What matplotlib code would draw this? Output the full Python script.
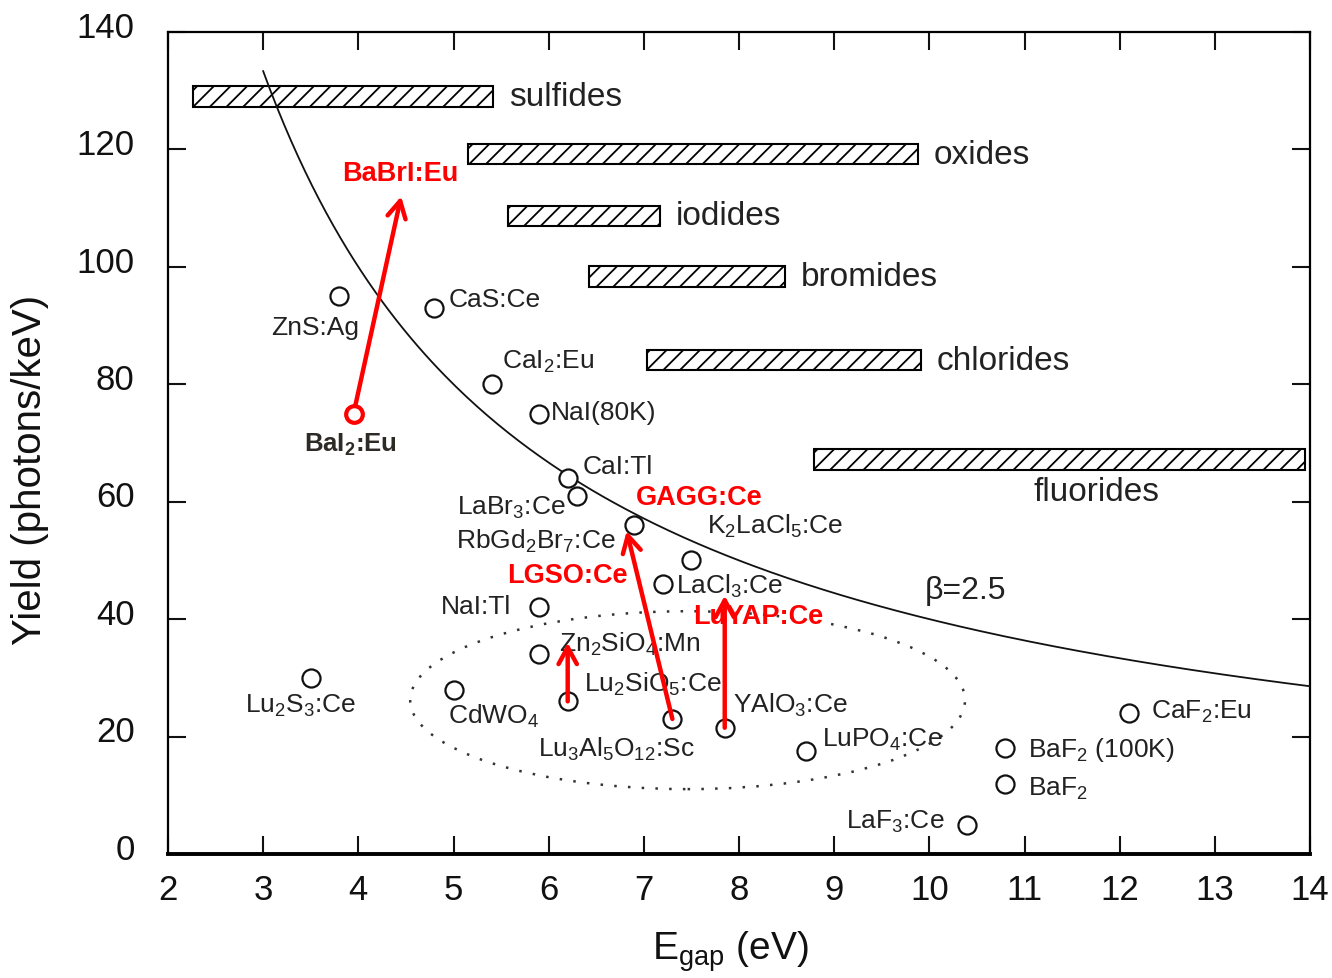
import matplotlib
matplotlib.use('Agg')
import matplotlib.pyplot as plt
import matplotlib.transforms as mtransforms
from matplotlib.patches import Ellipse
import numpy as np

plt.rcParams['font.family'] = ['Liberation Sans', 'DejaVu Sans']
plt.rcParams['mathtext.fontset'] = 'custom'
plt.rcParams['mathtext.rm'] = 'Liberation Sans'
plt.rcParams['mathtext.bf'] = 'Liberation Sans:bold'
plt.rcParams['mathtext.default'] = 'rm'
plt.rcParams['hatch.linewidth'] = 1.3

# scintillators: band gap (eV) and light yield (photons/keV)
materials = ['ZnS:Ag', 'CaS:Ce', 'CaI$_2$:Eu', 'NaI(80K)', 'CaI:Tl', 'LaBr$_3$:Ce',
             'RbGd$_2$Br$_7$:Ce', 'K$_2$LaCl$_5$:Ce', 'LaCl$_3$:Ce', 'NaI:Tl',
             'Zn$_2$SiO$_4$:Mn', 'Lu$_2$SiO$_5$:Ce', 'CdWO$_4$', 'Lu$_2$S$_3$:Ce',
             'Lu$_3$Al$_5$O$_{12}$:Sc', 'YAlO$_3$:Ce', 'LuPO$_4$:Ce', 'CaF$_2$:Eu',
             'BaF$_2$ (100K)', 'BaF$_2$', 'LaF$_3$:Ce']
egap = [3.8, 4.8, 5.4, 5.9, 6.2, 6.3, 6.9, 7.5, 7.2, 5.9, 5.9, 6.2, 5.0, 3.5,
        7.3, 7.85, 8.7, 12.1, 10.8, 10.8, 10.4]
light_yield = [95, 93, 80, 75, 64, 61, 56, 50, 46, 42, 34, 26, 28, 30,
               23, 21.5, 17.5, 24, 18, 12, 5]

# new materials (red) and where they move to
bai2_egap, bai2_yield = 3.95, 75
new_names = ['BaBrI:Eu', 'GAGG:Ce', 'LGSO:Ce', 'LuYAP:Ce']
new_from = [(3.95, 75), (7.3, 23), (6.2, 26), (7.85, 21.5)]
new_to = [(4.45, 112), (6.82, 55), (6.2, 36), (7.85, 44)]

# compound families: ranges of band gap and typical yield
families = ['sulfides', 'oxides', 'iodides', 'bromides', 'chlorides', 'fluorides']
fam_lo = [2.26, 5.15, 5.57, 6.42, 7.03, 8.79]
fam_hi = [5.42, 9.88, 7.17, 8.48, 9.91, 13.95]
fam_yield = [129, 119.2, 108.7, 98.4, 84.1, 67.2]

beta = 2.5

# label offsets in pixels (dx, dy, ha)
lab_off = [(-24, -31, 'center'), (14, 9, 'left'), (10, 23, 'left'), (12, 2, 'left'),
           (15, 12, 'left'), (-11, -11, 'right'), (-19, -15, 'right'), (16, 35, 'left'),
           (13, -1, 'left'), (-28, 1, 'right'), (20, 11, 'left'), (16, 18, 'left'),
           (-6, -26, 'left'), (-10, -27, 'center'), (22, -29, 'right'), (8, 23, 'left'),
           (16, 12, 'left'), (22, 2, 'left'), (23, -1, 'left'), (23, -4, 'left'),
           (-23, 4, 'right')]
new_lab = [(4.44, 116, 'center'), (6.92, 60.8, 'left'), (5.56, 47.5, 'left'),
           (7.52, 40.5, 'left')]

fig = plt.figure(figsize=(13.32, 9.79), dpi=100)
ax = fig.add_axes([168/1332, 1-855/979, 1142/1332, 822/979])

# hatched family bars
ax.barh(fam_yield, np.array(fam_hi) - np.array(fam_lo), left=fam_lo, height=3.5,
        facecolor='white', edgecolor='black', hatch='//', linewidth=1.5, zorder=2)
for name, hi, y in zip(families[:-1], fam_hi[:-1], fam_yield[:-1]):
    ax.annotate(name, (hi, y), xytext=(11.5, 0), textcoords='offset points',
                ha='left', va='center', fontsize=24, color='#222222')
ax.text(11.09, 61.8, families[-1], ha='left', va='center', fontsize=24, color='#222222')

# theoretical limit
eg = np.linspace(3.0, 14, 300)
ax.plot(eg, 1000 / (beta * eg), color='#111111', lw=1.3, zorder=3)
ax.text(9.95, 45, 'β=2.5', ha='left', va='center', fontsize=23, color='#222222')

# dotted ellipse around oxides
ax.add_patch(Ellipse((7.46, 26.2), 5.83, 30.3, fill=False, ls=(0, (1, 4.5)),
                     lw=1.8, color='#333333'))

ax.plot(egap, light_yield, 'o', ms=13, mfc='white', mec='#111111', mew=1.6,
        ls='none', zorder=4)
for name, x, y, (dx, dy, ha) in zip(materials, egap, light_yield, lab_off):
    ax.annotate(name, (x, y), xytext=(dx * 0.72, dy * 0.72),
                textcoords='offset points', ha=ha, va='center',
                fontsize=19, color='#222222')

# red arrows
for (x0, y0), (x1, y1) in zip(new_from, new_to):
    ax.annotate('', xy=(x1, y1), xytext=(x0, y0),
                arrowprops=dict(arrowstyle='->,head_length=0.55,head_width=0.3',
                                color='red', lw=3.2, shrinkA=0, shrinkB=0,
                                mutation_scale=22), zorder=5)
for name, (x, y, ha) in zip(new_names, new_lab):
    ax.text(x, y, name, ha=ha, va='center', fontsize=19.5, fontweight='bold',
            color='red', zorder=6)

ax.plot([bai2_egap], [bai2_yield], 'o', ms=12, mfc='white', mec='red', mew=3,
        zorder=6)
ax.annotate(r'BaI$_\mathbf{2}$:Eu', (bai2_egap, bai2_yield), xytext=(-2, -22),
            textcoords='offset points', ha='center', va='center', fontsize=18.5,
            fontweight='bold', color='#2e2a25')

ax.set_xlim(2, 14)
ax.set_ylim(0, 140)
ax.set_xticks(range(2, 15))
ax.set_yticks(range(0, 141, 20))
ax.tick_params(direction='in', length=13, width=1.5, top=True, right=True,
               labelsize=25, colors='#111111')
ax.tick_params(axis='y', pad=24)
ax.tick_params(axis='x', pad=14)
# y labels sit a little above their ticks
shift = mtransforms.ScaledTranslation(0, 6/72, fig.dpi_scale_trans)
for lab in ax.get_yticklabels():
    lab.set_transform(lab.get_transform() + shift)
for s in ax.spines.values():
    s.set_linewidth(1.6)
ax.spines['bottom'].set_linewidth(2.8)

fig.text(30/1332, 1-470/979, 'Yield (photons/keV)', rotation=90, ha='center',
         va='center', fontsize=29, color='#111111')
fig.text(730/1332, 1-952/979, r'E$_{gap}$ (eV)', ha='center', va='center',
         fontsize=28, color='#111111')

fig.savefig('out.png', dpi=100)
